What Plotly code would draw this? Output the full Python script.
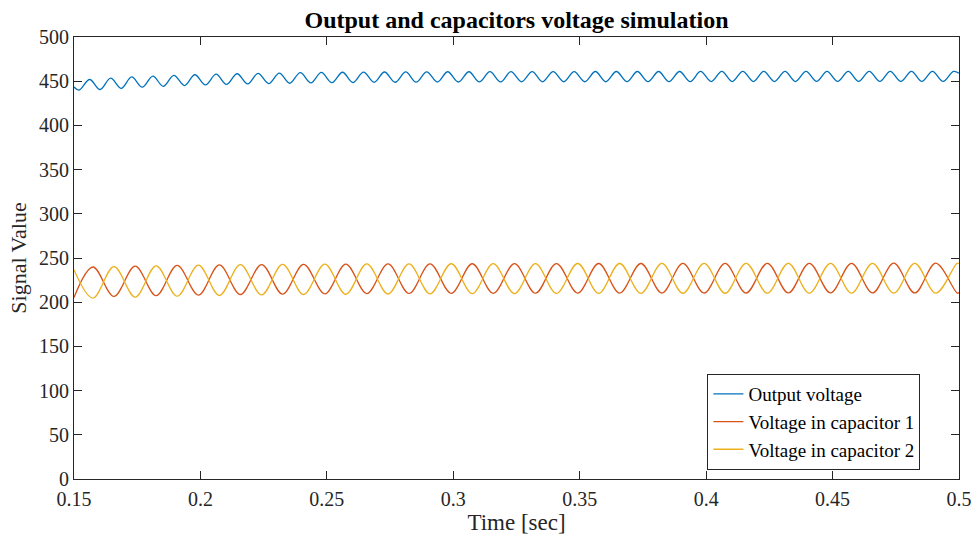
import plotly.graph_objects as go

# ---- data (extrema of each ripple, plus end points) ----
out_t = [0.1500,
         0.1520, 0.1562, 0.1603, 0.1645, 0.1687, 0.1728, 0.1770, 0.1812, 0.1853, 0.1895,
         0.1937, 0.1978, 0.2020, 0.2062, 0.2103, 0.2145, 0.2187, 0.2228, 0.2270, 0.2312,
         0.2353, 0.2395, 0.2437, 0.2478, 0.2520, 0.2562, 0.2603, 0.2645, 0.2687, 0.2728,
         0.2770, 0.2812, 0.2853, 0.2895, 0.2937, 0.2978, 0.3020, 0.3062, 0.3103, 0.3145,
         0.3187, 0.3228, 0.3270, 0.3312, 0.3353, 0.3395, 0.3437, 0.3478, 0.3520, 0.3562,
         0.3603, 0.3645, 0.3687, 0.3728, 0.3770, 0.3812, 0.3853, 0.3895, 0.3937, 0.3978,
         0.4020, 0.4062, 0.4103, 0.4145, 0.4187, 0.4228, 0.4270, 0.4312, 0.4353, 0.4395,
         0.4437, 0.4478, 0.4520, 0.4562, 0.4603, 0.4645, 0.4687, 0.4728, 0.4770, 0.4812,
         0.4853, 0.4895, 0.4937, 0.4978,
         0.5000]
out_v = [443.4,
         440.0, 451.9, 440.6, 453.4, 441.8, 454.8, 443.2, 455.7, 444.2, 456.6,
         445.1, 457.3, 445.8, 457.9, 446.4, 458.4, 446.9, 458.8, 447.3, 459.2,
         447.7, 459.6, 448.0, 459.9, 448.3, 460.1, 448.5, 460.3, 448.7, 460.4,
         448.8, 460.5, 448.9, 460.6, 449.0, 460.7, 449.1, 460.7, 449.2, 460.8,
         449.2, 460.8, 449.3, 460.9, 449.3, 460.9, 449.4, 460.9, 449.4, 461.0,
         449.4, 461.0, 449.5, 461.0, 449.5, 461.0, 449.5, 461.0, 449.5, 461.1,
         449.6, 461.1, 449.6, 461.1, 449.6, 461.1, 449.6, 461.1, 449.6, 461.1,
         449.7, 461.1, 449.7, 461.1, 449.7, 461.1, 449.7, 461.1, 449.7, 461.1,
         449.7, 461.1, 449.7, 461.1,
         459.0]

cap_t = [0.1500,
         0.1575, 0.1658, 0.1742, 0.1825, 0.1908, 0.1992, 0.2075, 0.2158, 0.2242, 0.2325,
         0.2408, 0.2492, 0.2575, 0.2658, 0.2742, 0.2825, 0.2908, 0.2992, 0.3075, 0.3158,
         0.3242, 0.3325, 0.3408, 0.3492, 0.3575, 0.3658, 0.3742, 0.3825, 0.3908, 0.3992,
         0.4075, 0.4158, 0.4242, 0.4325, 0.4408, 0.4492, 0.4575, 0.4658, 0.4742, 0.4825,
         0.4908, 0.4992,
         0.5000]
cap1_v = [205.4,
          239.8, 206.5, 240.8, 207.4, 241.6, 208.1, 242.2, 208.7, 242.6, 209.1,
          242.9, 209.4, 243.1, 209.7, 243.3, 209.9, 243.4, 210.0, 243.5, 210.1,
          243.6, 210.2, 243.7, 210.3, 243.8, 210.3, 243.8, 210.4, 243.9, 210.4,
          243.9, 210.4, 244.0, 210.5, 244.0, 210.5, 244.0, 210.5, 244.1, 210.5,
          244.1, 210.5,
          210.8]
cap2_v = [236.8,
          204.6, 240.3, 205.8, 241.2, 206.8, 241.9, 207.6, 242.4, 208.2, 242.8,
          208.7, 243.1, 209.0, 243.3, 209.3, 243.4, 209.5, 243.5, 209.7, 243.6,
          209.8, 243.7, 209.9, 243.8, 210.0, 243.8, 210.0, 243.9, 210.1, 243.9,
          210.1, 244.0, 210.2, 244.0, 210.2, 244.0, 210.2, 244.0, 210.2, 244.0,
          210.2, 244.0,
          243.9]

series_names = ["Output voltage", "Voltage in capacitor 1", "Voltage in capacitor 2"]
x_tickvals = [0.15, 0.2, 0.25, 0.3, 0.35, 0.4, 0.45, 0.5]
x_ticktext = ["0.15", "0.2", "0.25", "0.3", "0.35", "0.4", "0.45", "0.5"]
y_tickvals = [0, 50, 100, 150, 200, 250, 300, 350, 400, 450, 500]

colors = ["#0072BD", "#D95319", "#EDB120"]
FONT = "Liberation Serif"
AX = "#262626"

fig = go.Figure()
for t, v, name, c in [(out_t, out_v, series_names[0], colors[0]),
                      (cap_t, cap1_v, series_names[1], colors[1]),
                      (cap_t, cap2_v, series_names[2], colors[2])]:
    fig.add_trace(go.Scatter(x=t, y=v, mode="lines", name=name,
                             line=dict(color=c, width=1.3, shape="spline", smoothing=1)))

axis_common = dict(showline=True, linecolor=AX, linewidth=1, mirror="ticks",
                   ticks="inside", ticklen=8, tickcolor=AX, tickwidth=1,
                   showgrid=False, zeroline=False, automargin=False,
                   tickfont=dict(family=FONT, size=20, color=AX))

fig.update_layout(
    width=975, height=541,
    margin=dict(l=74, r=16, t=37, b=62),
    paper_bgcolor="white", plot_bgcolor="white",
    title=dict(text="<b>Output and capacitors voltage simulation</b>",
               x=0.5, xref="paper", xanchor="center",
               y=1 - 20 / 541, yref="container", yanchor="middle",
               font=dict(family=FONT, size=24, color="black")),
    xaxis=dict(range=[0.15, 0.5], tickvals=x_tickvals, ticktext=x_ticktext,
               ticklabelstandoff=2,
               title=dict(text="Time [sec]", font=dict(family=FONT, size=23, color=AX),
                          standoff=3),
               **axis_common),
    yaxis=dict(range=[0, 500], tickvals=y_tickvals,
               title=dict(text="Signal Value", font=dict(family=FONT, size=22, color=AX),
                          standoff=6),
               **axis_common),
    legend=dict(x=0.9564, xanchor="right", y=0.0204, yanchor="bottom",
                bgcolor="white", bordercolor=AX, borderwidth=1,
                font=dict(family=FONT, size=19, color="black"),
                tracegroupgap=0, itemwidth=30),
    showlegend=True,
)

fig.write_html("out.html")
